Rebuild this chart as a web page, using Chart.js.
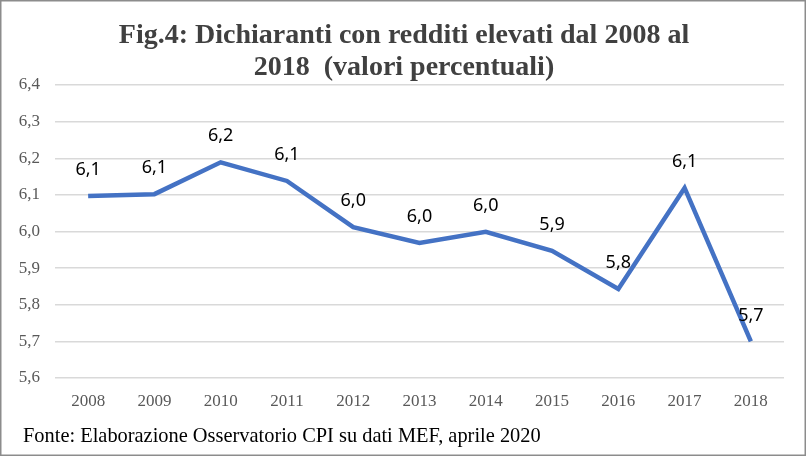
<!DOCTYPE html>
<html>
<head>
<meta charset="utf-8">
<script src="https://cdn.jsdelivr.net/npm/chart.js@4.4.1/dist/chart.umd.min.js"></script>
<style>
  html, body { margin: 0; padding: 0; background: #fff; }
  #wrap { width: 806px; height: 456px; position: relative; }
</style>
</head>
<body>
<div id="wrap"><canvas id="chart" width="806" height="456"></canvas></div>
<script>
// Fig.4 - dichiaranti con redditi elevati (valori percentuali)
const YEARS = ['2008','2009','2010','2011','2012','2013','2014','2015','2016','2017','2018'];
const SHARE = [6.097, 6.102, 6.189, 6.138, 6.012, 5.969, 5.999, 5.947, 5.843, 6.119, 5.700];
const TITLE_LINES = ['Fig.4: Dichiaranti con redditi elevati dal 2008 al', '2018  (valori percentuali)'];
const SOURCE = 'Fonte: Elaborazione Osservatorio CPI su dati MEF, aprile 2020';

const fmt = v => v.toFixed(1).replace('.', ',');

// frame, title, value labels and source note
const decor = {
  id: 'decor',
  beforeDraw(chart) {
    const c = chart.ctx;
    c.save();
    c.fillStyle = '#fff';
    c.fillRect(0, 0, chart.width, chart.height);
    c.strokeStyle = '#8c8c8c';
    c.lineWidth = 1.5;
    c.strokeRect(0.75, 0.75, chart.width - 1.5, chart.height - 1.5);
    c.fillStyle = '#404040';
    c.font = 'bold 28px "Liberation Serif"';
    c.textAlign = 'center';
    c.textBaseline = 'middle';
    TITLE_LINES.forEach((t, i) => c.fillText(t, chart.width / 2 + 1, 36 + i * 32));
    c.restore();
  },
  afterDatasetsDraw(chart) {
    const c = chart.ctx;
    const meta = chart.getDatasetMeta(0);
    c.save();
    c.font = '18px "Noto Sans"';
    c.fillStyle = '#000';
    c.textAlign = 'center';
    c.textBaseline = 'middle';
    meta.data.forEach((pt, i) => {
      c.fillText(fmt(SHARE[i]), pt.x, pt.y - 26);
    });
    c.font = '20.4px "Liberation Serif"';
    c.textAlign = 'left';
    c.fillText(SOURCE, 23, 437);
    c.restore();
  }
};

new Chart(document.getElementById('chart'), {
  type: 'line',
  data: {
    labels: YEARS,
    datasets: [{
      data: SHARE,
      borderColor: '#4472C4',
      borderWidth: 4.5,
      pointRadius: 0,
      tension: 0,
      fill: false
    }]
  },
  options: {
    responsive: false,
    animation: false,
    layout: { padding: { left: 0, right: 22, top: 85, bottom: 0 } },
    plugins: {
      legend: { display: false },
      tooltip: { enabled: false },
      title: { display: false }
    },
    scales: {
      x: {
        offset: true,
        grid: { display: false, drawTicks: false },
        border: { display: false },
        ticks: { color: '#595959', font: { family: '"Liberation Serif"', size: 17 }, padding: 13 },
        afterFit(s) { s.height = 78; }
      },
      y: {
        min: 5.6,
        max: 6.4,
        grid: { color: '#d9d9d9', lineWidth: 1.5, drawTicks: false },
        border: { display: false },
        ticks: {
          stepSize: 0.1,
          color: '#595959',
          font: { family: '"Liberation Serif"', size: 17 },
          padding: 15,
          callback: v => fmt(v)
        },
        afterFit(s) { s.width = 55; }
      }
    }
  },
  plugins: [decor]
});
</script>
</body>
</html>
